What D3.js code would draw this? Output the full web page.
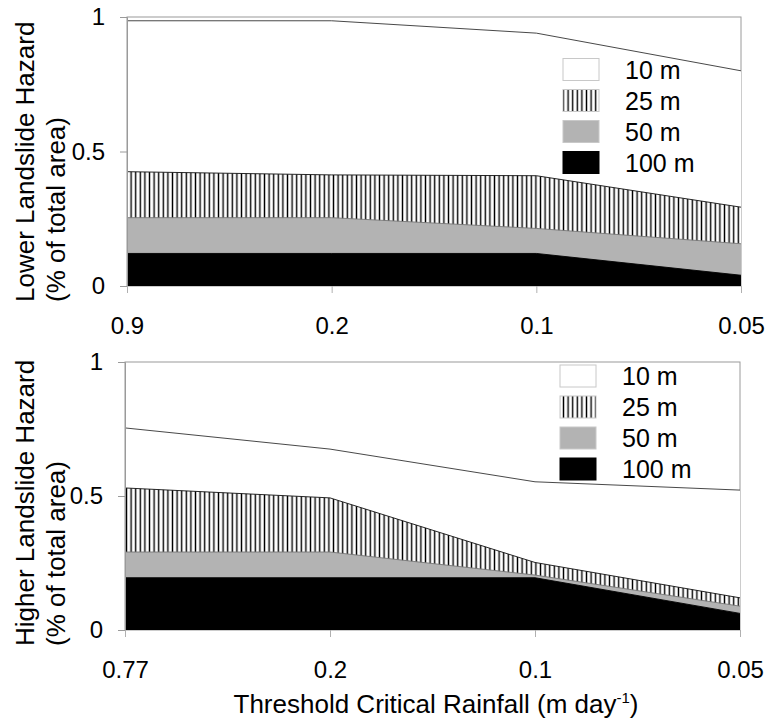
<!DOCTYPE html>
<html>
<head>
<meta charset="utf-8">
<script src="https://cdn.jsdelivr.net/npm/d3@7"></script>
<style>
  html, body { margin: 0; padding: 0; background: #fff; }
  svg { display: block; font-family: "Liberation Sans", Arial, sans-serif; }
</style>
</head>
<body>
<svg id="chart" width="768" height="722"></svg>
<script>
// Threshold critical rainfall categories (m day-1)
const lowerCategories = ["0.9", "0.2", "0.1", "0.05"];
const higherCategories = ["0.77", "0.2", "0.1", "0.05"];

// Share of total area per DEM resolution, lower landslide hazard
const lower10 = [0.986, 0.986, 0.940, 0.800];
const lower25 = [0.425, 0.413, 0.410, 0.293];
const lower50 = [0.254, 0.254, 0.214, 0.157];
const lower100 = [0.121, 0.121, 0.121, 0.040];

// Share of total area per DEM resolution, higher landslide hazard
const higher10 = [0.754, 0.675, 0.553, 0.522];
const higher25 = [0.530, 0.493, 0.252, 0.120];
const higher50 = [0.291, 0.291, 0.205, 0.089];
const higher100 = [0.195, 0.195, 0.195, 0.062];

const seriesNames = ["10 m", "25 m", "50 m", "100 m"];
const yTicks = [0, 0.5, 1];
const yTickLabels = ["0", "0.5", "1"];

const svg = d3.select("#chart");

// vertical hatch for the 25 m layer
const defs = svg.append("defs");
const pat = defs.append("pattern")
  .attr("id", "vhatch")
  .attr("patternUnits", "userSpaceOnUse")
  .attr("width", 4.6).attr("height", 10);
pat.append("rect").attr("width", 4.6).attr("height", 10).attr("fill", "#fff");
pat.append("rect").attr("x", 1.6).attr("width", 1.4).attr("height", 10).attr("fill", "#000");

const fills = ["#ffffff", "url(#vhatch)", "#b3b3b3", "#000000"];
const strokes = ["#333", "#111", "#777", "#000"];

function panel(cfg) {
  const g = svg.append("g");
  const x = d3.scalePoint().domain(cfg.categories).range([cfg.left, cfg.right]).padding(0);
  const y = d3.scaleLinear().domain([0, 1]).range([cfg.bottom, cfg.top]);

  // plot frame
  g.append("rect")
    .attr("x", cfg.left).attr("y", cfg.top)
    .attr("width", cfg.right - cfg.left).attr("height", cfg.bottom - cfg.top)
    .attr("fill", "#fff").attr("stroke", "#9a9a9a").attr("stroke-width", 1);

  const area = d3.area()
    .x((d, i) => x(cfg.categories[i]))
    .y0(y(0))
    .y1(d => y(d));
  const line = d3.line()
    .x((d, i) => x(cfg.categories[i]))
    .y(d => y(d));

  cfg.series.forEach((vals, k) => {
    g.append("path").attr("d", area(vals)).attr("fill", fills[k]);
    g.append("path").attr("d", line(vals)).attr("fill", "none")
      .attr("stroke", strokes[k]).attr("stroke-width", 0.9);
  });

  // axes
  const yAxis = g.append("g")
    .attr("transform", `translate(${cfg.left},0)`)
    .call(d3.axisLeft(y).tickValues(yTicks).tickFormat((d, i) => yTickLabels[i])
      .tickSize(7).tickPadding(15));
  yAxis.select(".domain").attr("stroke", "#9a9a9a");
  yAxis.selectAll(".tick line").attr("stroke", "#9a9a9a");
  yAxis.selectAll("text").attr("font-size", 24).attr("fill", "#000")
    .attr("font-family", "'Liberation Sans', Arial, sans-serif");

  const xAxis = g.append("g")
    .attr("transform", `translate(0,${cfg.bottom})`)
    .call(d3.axisBottom(x).tickSize(7).tickPadding(24));
  xAxis.select(".domain").remove();
  xAxis.selectAll(".tick line").attr("stroke", "#b0b0b0");
  xAxis.selectAll("text").attr("font-size", 24).attr("fill", "#000")
    .attr("font-family", "'Liberation Sans', Arial, sans-serif");

  // y-axis title, two lines
  const t = g.append("text")
    .attr("transform", `translate(0,${cfg.titleStart}) rotate(-90)`)
    .attr("font-size", 26).attr("text-anchor", "start");
  t.append("tspan").attr("x", 0).attr("y", 34).text(cfg.title);
  t.append("tspan").attr("x", 0).attr("y", 65).text("(% of total area)");

  // legend
  const lg = g.append("g");
  seriesNames.forEach((name, k) => {
    const yy = cfg.legendTop + k * 31;
    lg.append("rect")
      .attr("x", cfg.legendX).attr("y", yy)
      .attr("width", 36).attr("height", 22)
      .attr("fill", fills[k])
      .attr("stroke", k === 3 ? "#000" : "#c8c8c8").attr("stroke-width", 1);
    lg.append("text")
      .attr("x", cfg.legendX + 62).attr("y", yy + 20)
      .attr("font-size", 25).attr("fill", "#000")
      .text(name);
  });
}

panel({
  categories: lowerCategories,
  series: [lower10, lower25, lower50, lower100],
  left: 127, right: 741, top: 17, bottom: 286,
  title: "Lower Landslide Hazard",
  titleStart: 302,
  legendX: 563, legendTop: 58.5
});

panel({
  categories: higherCategories,
  series: [higher10, higher25, higher50, higher100],
  left: 125, right: 740, top: 362, bottom: 630,
  title: "Higher Landslide Hazard",
  titleStart: 646,
  legendX: 560, legendTop: 365
});

// shared x-axis title
const xt = svg.append("text")
  .attr("x", 436).attr("y", 713)
  .attr("text-anchor", "middle").attr("font-size", 26);
xt.append("tspan").text("Threshold Critical Rainfall (m day");
xt.append("tspan").attr("font-size", 15).attr("dy", -10).text("-1");
xt.append("tspan").attr("dy", 10).text(")");
</script>
</body>
</html>
